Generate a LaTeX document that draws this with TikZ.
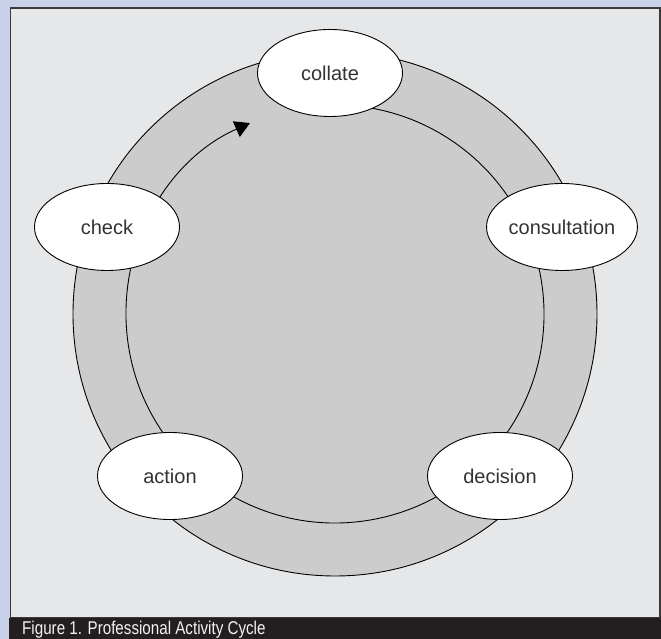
\documentclass[tikz,border=0pt]{standalone}
\usepackage{fontspec}
\setmainfont{Liberation Sans}
\usetikzlibrary{shapes.geometric,arrows.meta,calc}
\definecolor{bgblue}{HTML}{C9D1E9}
\definecolor{panelgray}{HTML}{E6E7E8}
\definecolor{ringgray}{HTML}{CCCCCC}
\definecolor{captionbar}{HTML}{231F20}
\definecolor{textgray}{HTML}{333333}
\definecolor{bordergray}{HTML}{3A3A3A}
\tikzset{
  stage/.style={ellipse, draw=black, line width=0.9pt, fill=white,
    minimum width=145pt, minimum height=87pt, inner sep=0pt,
    text=textgray, font=\fontsize{20}{24}\selectfont},
  ringline/.style={draw=black, line width=0.9pt},
}
\begin{document}
\begin{tikzpicture}[x=1pt,y=1pt]
\useasboundingbox (0,0) rectangle (661,639);
\clip (0,0) rectangle (661,639);
% background and panel
\fill[bgblue] (0,0) rectangle (661,639);
\draw[fill=panelgray, draw=bordergray, line width=1.5pt] (10.5,21) rectangle (660.2,631);
% outer disc
\coordinate (c) at (335,325);
\filldraw[fill=ringgray, ringline] (c) circle[radius=262];
% inner ring line with arrow (check -> collate)
\draw[ringline, -{Triangle[length=15pt,width=17pt]}]
  ($(c)+(100:209)$) arc[start angle=100, end angle=-246, radius=209];
% stages
\node[stage] (collate) at (330,566) {collate};
\node[stage] (consultation) at (562,412) {consultation};
\node[stage] (decision) at (500,163) {decision};
\node[stage] (action) at (170,163) {action};
\node[stage] (check) at (107,412) {check};
% caption
\fill[captionbar] (9,0) rectangle (661,21);
\node[anchor=base west, inner sep=0pt, text=white!95!black,
  font=\fontsize{18.5}{21}\selectfont] (caption) at (22,4)
  {\scalebox{0.82}[1]{Figure 1. Professional Activity Cycle}};
\end{tikzpicture}
\end{document}
